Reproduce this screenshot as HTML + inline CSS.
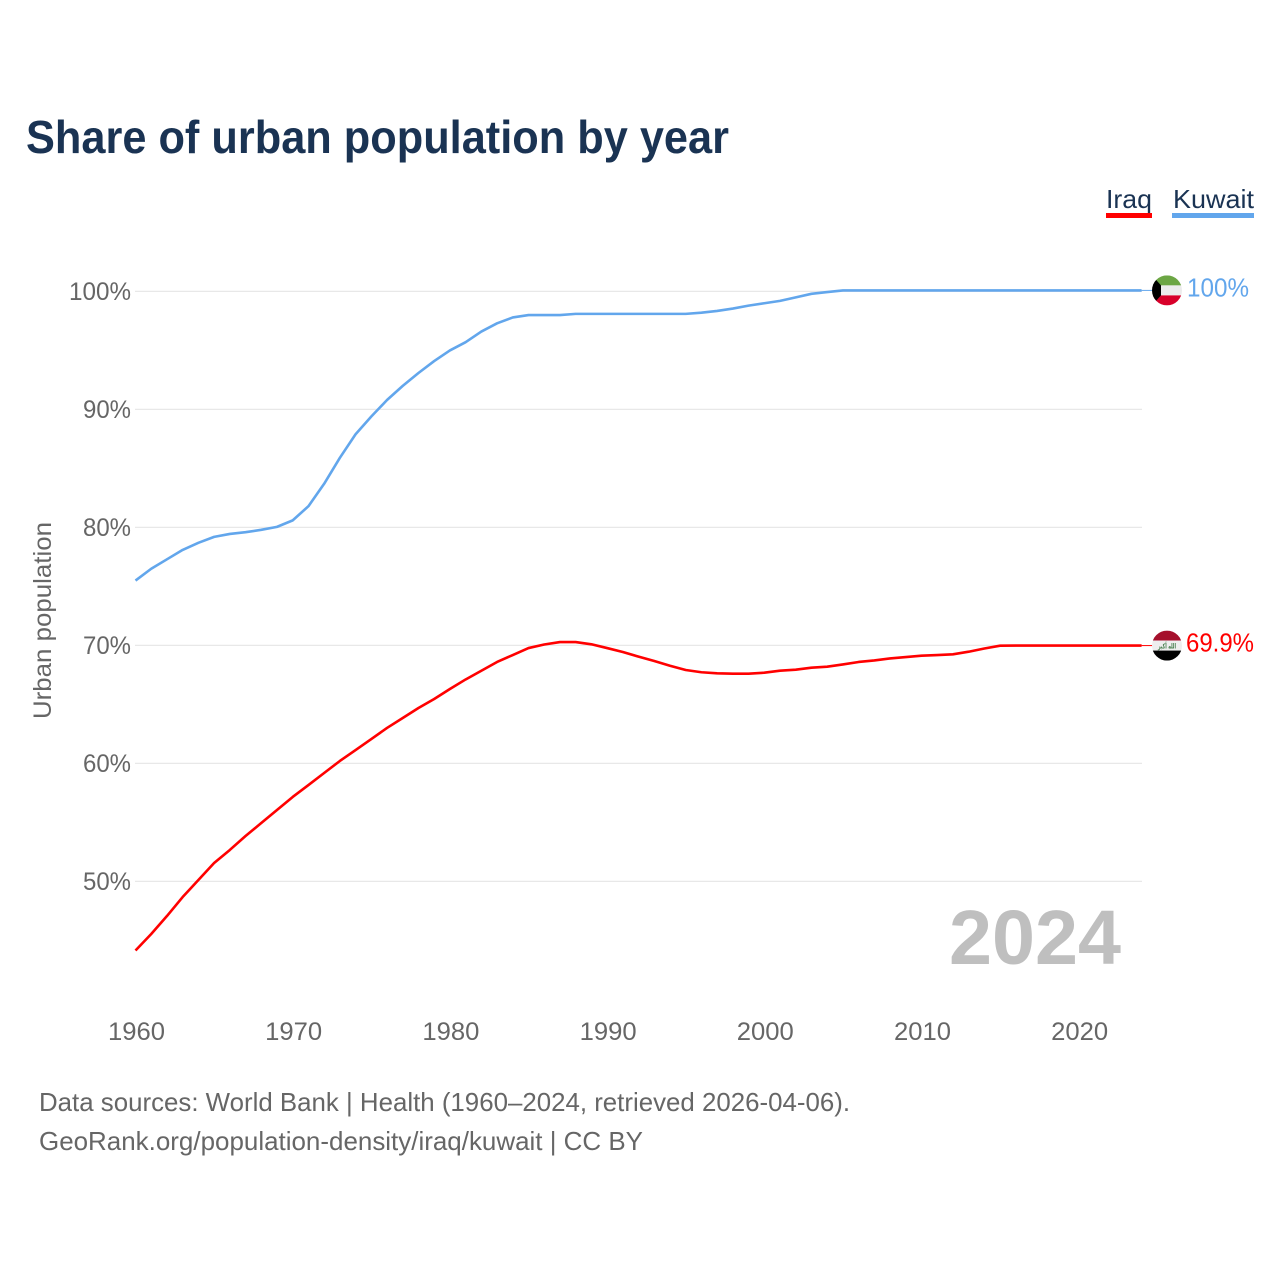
<!DOCTYPE html>
<html lang="en">
<head>
<meta charset="utf-8">
<title>Share of urban population by year</title>
<style>
html,body{margin:0;padding:0;background:#fff;}
svg{display:block;font-family:"Liberation Sans",sans-serif;}
</style>
</head>
<body>
<svg id="chart" xmlns="http://www.w3.org/2000/svg" width="1280" height="1280" viewBox="0 0 1280 1280">
  <rect width="1280" height="1280" fill="#ffffff"/>
  <text x="26" y="153" font-size="46" font-weight="700" fill="#1a3353" textLength="703" lengthAdjust="spacingAndGlyphs">Share of urban population by year</text>

  <g>
    <text x="1106" y="208" font-size="26" fill="#1a3353" textLength="46" lengthAdjust="spacingAndGlyphs">Iraq</text>
    <rect x="1106" y="213" width="46" height="5" fill="#ff0000"/>
  </g>
  <g>
    <text x="1173" y="208" font-size="26" fill="#1a3353" textLength="81" lengthAdjust="spacingAndGlyphs">Kuwait</text>
    <rect x="1172" y="213" width="82" height="5" fill="#62a6ec"/>
  </g>

  <g id="grid"></g>
  <g id="yticks"></g>
  <g id="xticks"></g>
  <text transform="translate(51,719) rotate(-90)" font-size="25" fill="#666666" textLength="197" lengthAdjust="spacingAndGlyphs">Urban population</text>
  <g id="series"></g>

  <defs>
    <clipPath id="clip-flag"><circle cx="0" cy="0" r="15"/></clipPath>
  </defs>
  <g id="flag-kuwait">
    <g clip-path="url(#clip-flag)">
      <rect x="-15" y="-15" width="30" height="10" fill="#6ca644"/>
      <rect x="-15" y="-5" width="30" height="10" fill="#ececec"/>
      <rect x="-15" y="5" width="30" height="10" fill="#d8002a"/>
      <polygon points="-15,-15 -6,-5 -6,5 -15,15" fill="#000000"/>
    </g>
  </g>
  <g id="flag-iraq">
    <g clip-path="url(#clip-flag)">
      <rect x="-15" y="-15" width="30" height="10" fill="#a5102c"/>
      <rect x="-15" y="-5" width="30" height="10" fill="#eeeeee"/>
      <rect x="-15" y="5" width="30" height="10" fill="#000000"/>
      <text x="0" y="3" text-anchor="middle" font-size="7" font-weight="700" fill="#3f7a46" style="font-family:'DejaVu Sans',sans-serif" textLength="18" lengthAdjust="spacingAndGlyphs">الله أكبر</text>
    </g>
  </g>
  <text id="label-kuwait" x="1187" y="296" font-size="26" fill="#62a6ec" textLength="62" lengthAdjust="spacingAndGlyphs">100%</text>
  <text id="label-iraq" x="1186" y="652" font-size="26" fill="#ff0000" textLength="68" lengthAdjust="spacingAndGlyphs">69.9%</text>

  <text x="949" y="964" font-size="77" font-weight="700" fill="#bfbfbf" textLength="172" lengthAdjust="spacingAndGlyphs">2024</text>

  <text x="39" y="1111" font-size="26" fill="#666666" textLength="811" lengthAdjust="spacingAndGlyphs">Data sources: World Bank | Health (1960–2024, retrieved 2026-04-06).</text>
  <text x="39" y="1150" font-size="26" fill="#666666" textLength="604" lengthAdjust="spacingAndGlyphs">GeoRank.org/population-density/iraq/kuwait | CC BY</text>
</svg>
<script>
const startYear = 1960;
const yTickValues = [100, 90, 80, 70, 60, 50];
const xTickValues = [1960, 1970, 1980, 1990, 2000, 2010, 2020];
const iraqValues = [44.06,45.46,46.98,48.59,50.03,51.47,52.58,53.76,54.86,55.97,57.07,58.08,59.10,60.12,61.05,61.98,62.92,63.76,64.61,65.37,66.22,67.03,67.77,68.51,69.10,69.69,69.99,70.20,70.20,70.01,69.69,69.36,68.96,68.59,68.19,67.83,67.64,67.55,67.52,67.52,67.60,67.77,67.86,68.03,68.11,68.30,68.51,68.64,68.81,68.93,69.04,69.10,69.16,69.38,69.65,69.89,69.90,69.90,69.90,69.90,69.90,69.90,69.90,69.90,69.90];
const kuwaitValues = [75.41,76.41,77.21,78.01,78.61,79.11,79.36,79.51,79.71,79.96,80.51,81.71,83.61,85.81,87.81,89.31,90.71,91.91,93.00,94.01,94.91,95.61,96.51,97.21,97.71,97.91,97.91,97.91,98.01,98.01,98.01,98.01,98.01,98.01,98.01,98.01,98.11,98.26,98.46,98.71,98.91,99.11,99.41,99.71,99.86,100,100,100,100,100,100,100,100,100,100,100,100,100,100,100,100,100,100,100,100];

const NS = 'http://www.w3.org/2000/svg';
function xScale(year) { return 135.5 + (year - 1960) * 15.72; }
function yScale(v) { return 291.4 + (100 - v) * 11.8; }
function lineY(v) { return yScale(v) - 1; }

const grid = document.getElementById('grid');
const yticks = document.getElementById('yticks');
const xticks = document.getElementById('xticks');
const series = document.getElementById('series');

yTickValues.forEach(function (v) {
  const l = document.createElementNS(NS, 'line');
  
  
  l.setAttribute('x1', 135);
  l.setAttribute('x2', 1142);
  l.setAttribute('y1', yScale(v));
  l.setAttribute('y2', yScale(v));
  l.setAttribute('stroke', '#e8e8e8');
  l.setAttribute('stroke-width', 1.2);
  grid.appendChild(l);
  const t = document.createElementNS(NS, 'text');
  
  
  t.setAttribute('x', 131);
  t.setAttribute('y', yScale(v) + 8.5);
  t.setAttribute('text-anchor', 'end');
  t.setAttribute('font-size', 25);
  t.setAttribute('fill', '#666666');
  t.setAttribute('textLength', v === 100 ? 62 : 48);
  t.setAttribute('lengthAdjust', 'spacingAndGlyphs');
  t.textContent = v + '%';
  yticks.appendChild(t);
});

xTickValues.forEach(function (year) {
  const t = document.createElementNS(NS, 'text');
  
  
  t.setAttribute('x', xScale(year) + 1);
  t.setAttribute('y', 1040);
  t.setAttribute('text-anchor', 'middle');
  t.setAttribute('font-size', 25);
  t.setAttribute('fill', '#666666');
  t.setAttribute('textLength', 57);
  t.setAttribute('lengthAdjust', 'spacingAndGlyphs');
  t.textContent = year;
  xticks.appendChild(t);
});

function pathFor(values) {
  return values.map(function (v, i) {
    return (i ? 'L' : 'M') + xScale(startYear + i).toFixed(2) + ' ' + lineY(v).toFixed(2);
  }).join(' ');
}

function drawSeries(name, values, color, flagId, labelId) {
  const p = document.createElementNS(NS, 'path');
  
  
  p.setAttribute('d', pathFor(values));
  p.setAttribute('fill', 'none');
  p.setAttribute('stroke', color);
  p.setAttribute('stroke-width', 2.6);
  p.setAttribute('stroke-linejoin', 'round');
  series.appendChild(p);
  const last = values[values.length - 1];
  const endX = xScale(startYear + values.length - 1);
  const c = document.createElementNS(NS, 'line');
  
  
  c.setAttribute('x1', endX);
  c.setAttribute('x2', 1153);
  c.setAttribute('y1', lineY(last));
  c.setAttribute('y2', lineY(last));
  c.setAttribute('stroke', color);
  c.setAttribute('stroke-width', 1);
  series.appendChild(c);
  document.getElementById(flagId).setAttribute('transform', 'translate(1167,' + lineY(last).toFixed(2) + ')');
  document.getElementById(labelId).setAttribute('y', (lineY(last) + 6).toFixed(2));
}

drawSeries('iraq', iraqValues, '#ff0000', 'flag-iraq', 'label-iraq');
drawSeries('kuwait', kuwaitValues, '#62a6ec', 'flag-kuwait', 'label-kuwait');
</script>
</body>
</html>
